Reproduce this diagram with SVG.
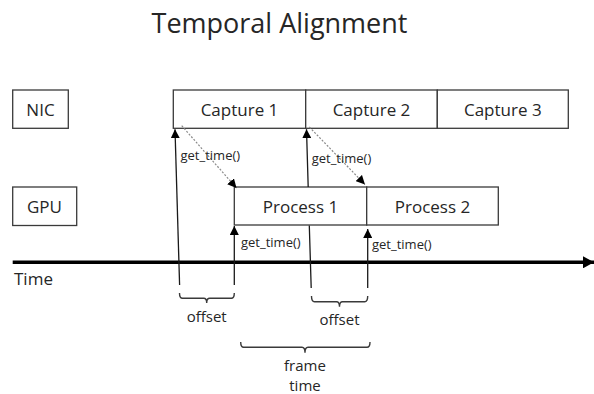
<svg xmlns="http://www.w3.org/2000/svg" width="594" height="394" viewBox="0 0 594 394">
  <style>
    text { font-family: "Open Sans", "Liberation Sans", sans-serif; fill: #262626; }
    .title { font-size: 27px; text-anchor: middle; }
    .lbl { font-size: 17px; text-anchor: middle; }
    .axis-lbl { font-size: 17px; }
    .call { font-size: 13px; }
    .note { font-size: 15px; text-anchor: middle; }
    .box { fill: #ffffff; stroke: #3a3a3a; stroke-width: 1.3; }
    .arrow { fill: none; stroke: #1a1a1a; stroke-width: 1.3; marker-end: url(#head); }
    .dash { fill: none; stroke: #8a8a8a; stroke-width: 1.2; stroke-dasharray: 2 1.6; marker-end: url(#head); }
    .brace { fill: none; stroke: #3a3a3a; stroke-width: 1.4; }
  </style>
  <defs>
    <marker id="head" viewBox="0 0 10 10" refX="10" refY="5" markerWidth="9" markerHeight="9" markerUnits="userSpaceOnUse" orient="auto">
      <path d="M0,0 L10,5 L0,10 z" fill="#000000"/>
    </marker>
    <marker id="axisHead" viewBox="0 0 10 10" refX="10" refY="5" markerWidth="11" markerHeight="12" markerUnits="userSpaceOnUse" orient="auto" preserveAspectRatio="none">
      <path d="M0,0 L10,5 L0,10 z" fill="#000000"/>
    </marker>
  </defs>

  <text class="title" x="279.5" y="33">Temporal Alignment</text>

  <!-- lane labels -->
  <g id="lane-nic">
    <rect class="box" x="12.7" y="90" width="55.6" height="38.3"/>
    <text class="lbl" x="40.5" y="116">NIC</text>
  </g>
  <g id="lane-gpu">
    <rect class="box" x="12.7" y="187" width="64" height="38.5"/>
    <text class="lbl" x="44.5" y="212.7">GPU</text>
  </g>

  <!-- NIC captures -->
  <g id="capture-1">
    <rect class="box" x="173.3" y="90" width="132.4" height="38.3"/>
    <text class="lbl" x="239.5" y="116">Capture 1</text>
  </g>
  <g id="capture-2">
    <rect class="box" x="305.7" y="90" width="131.6" height="38.3"/>
    <text class="lbl" x="371.5" y="116">Capture 2</text>
  </g>
  <g id="capture-3">
    <rect class="box" x="437.3" y="90" width="131" height="38.3"/>
    <text class="lbl" x="502.8" y="116">Capture 3</text>
  </g>

  <!-- GPU processing -->
  <g id="process-1">
    <rect class="box" x="234.3" y="187" width="132.4" height="38"/>
    <text class="lbl" x="300.5" y="212.7">Process 1</text>
  </g>
  <g id="process-2">
    <rect class="box" x="366.7" y="187" width="131.6" height="38"/>
    <text class="lbl" x="432.5" y="212.7">Process 2</text>
  </g>

  <!-- time axis -->
  <g id="time-axis">
    <line x1="12.7" y1="262.3" x2="594" y2="262.3" stroke="#000000" stroke-width="3.5" marker-end="url(#axisHead)"/>
    <text class="axis-lbl" x="14" y="285">Time</text>
  </g>

  <!-- connectors -->
  <g id="connectors">
    <path class="arrow" d="M179.6,285 L175,129.2"/>
    <path class="arrow" d="M234.3,285 L234.3,226"/>
    <path class="arrow" d="M311.2,288 L309.3,225.6 M308.2,187 L306.5,129.2"/>
    <path class="arrow" d="M367.7,288 L367.7,229"/>
    <path class="dash" d="M181.7,125.7 L236.5,188"/>
    <path class="dash" d="M309.3,127 L365,184.5"/>
  </g>

  <!-- call labels -->
  <g id="call-labels">
    <text class="call" x="180.5" y="160">get_time()</text>
    <text class="call" x="311.7" y="163.3">get_time()</text>
    <text class="call" x="241" y="246.7">get_time()</text>
    <text class="call" x="372" y="249">get_time()</text>
  </g>

  <!-- interval braces -->
  <g id="offset-1">
    <path class="brace" d="M179.5,293 Q179.5,298.3 182.5,298.3 H203.7 Q206.7,298.3 206.7,303 Q206.7,298.3 209.7,298.3 H231.3 Q234.3,298.3 234.3,293"/>
    <text class="note" x="206.7" y="321.5">offset</text>
  </g>
  <g id="offset-2">
    <path class="brace" d="M311.5,296 Q311.5,301.7 314.5,301.7 H336.5 Q339.5,301.7 339.5,306.7 Q339.5,301.7 342.5,301.7 H364.7 Q367.7,301.7 367.7,296"/>
    <text class="note" x="339.5" y="324.5">offset</text>
  </g>
  <g id="frame-time">
    <path class="brace" d="M240.7,342 Q240.7,347.3 243.7,347.3 H302 Q305,347.3 305,352.7 Q305,347.3 308,347.3 H367 Q370,347.3 370,342"/>
    <text class="note" x="305" y="371">frame</text>
    <text class="note" x="305" y="391">time</text>
  </g>
</svg>
